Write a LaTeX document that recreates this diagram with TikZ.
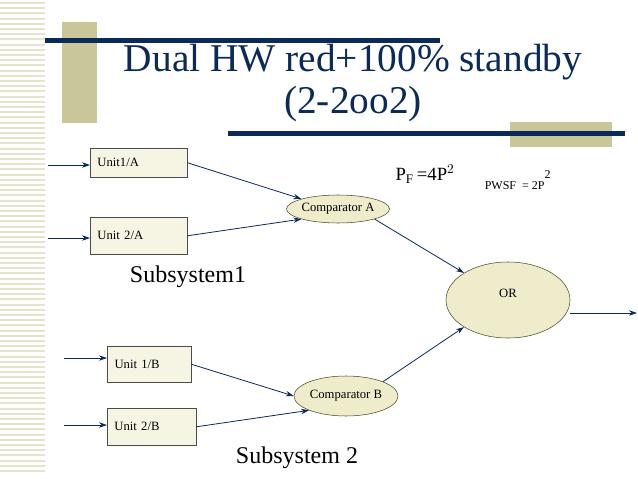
\documentclass[tikz,border=0pt]{standalone}
\usepackage{fontspec}
\setmainfont{Liberation Serif}
\usetikzlibrary{shapes.geometric,arrows.meta}
\definecolor{navy}{HTML}{0B2A5A}
\definecolor{khaki}{HTML}{C9C79A}
\definecolor{boxfill}{HTML}{F6F5E4}
\definecolor{ellfill}{HTML}{EEECCB}
\begin{document}
\begin{tikzpicture}[x=0.75pt,y=-0.75pt,
  unit/.style={draw=black!70,fill=boxfill,anchor=north west,inner sep=4pt,font=\fontsize{9.5}{10}\selectfont},
  ell/.style={ellipse,draw=black!60!olive,fill=ellfill,inner sep=0pt,font=\fontsize{9.5}{10}\selectfont},
  arr/.style={draw=navy,-{Stealth[length=6pt,width=4pt]},line width=0.6pt}]
\useasboundingbox (0,0) rectangle (638,478);
\fill[white] (0,0) rectangle (638,478);
\foreach \i in {0,...,90} \fill[khaki!50] (0,{2+\i*5.2}) rectangle (45,{4+\i*5.2});
\fill[khaki] (62,22) rectangle (97,123);
\fill[khaki] (510,122) rectangle (612,147);
\fill[navy] (45,38) rectangle (440,43);
\fill[navy] (228,131) rectangle (625,136);
\node[navy,font=\fontsize{29.5}{31}\selectfont,align=center] (title) at (353,83) {Dual HW red+100\% standby\\(2-2oo2)};
\node[unit,minimum width=72.75pt,minimum height=21.75pt,align=left,text width=62pt] (u1a) at (90,148) {Unit1/A\\[4pt]};
\node[unit,minimum width=72.75pt,minimum height=27.75pt,text width=62pt] (u2a) at (90,217) {Unit 2/A};
\node[unit,minimum width=63pt,minimum height=27pt,text width=52pt] (u1b) at (107,346) {Unit 1/B};
\node[unit,minimum width=66.75pt,minimum height=27.75pt,text width=56pt] (u2b) at (107,408) {Unit 2/B};
\node[ell,minimum width=72pt,minimum height=21pt] (ca) at (338,209) {Comparator A};
\node[ell,minimum width=78pt,minimum height=30pt] (cb) at (346,396) {Comparator B};
\node[ell,minimum width=93pt,minimum height=57pt] (or) at (508,300) {\raisebox{10pt}{OR}};
\coordinate (i1) at (48,165); \coordinate (i2) at (48,238);
\coordinate (i3) at (64,358); \coordinate (i4) at (64,425);
\coordinate (o0) at (570,313);
\coordinate (o) at (637,313);
\draw[arr] (i1) -- (i1-|u1a.west);
\draw[arr] (i2) -- (i2-|u2a.west);
\draw[arr] (i3) -- (i3-|u1b.west);
\draw[arr] (i4) -- (i4-|u2b.west);
\draw[arr] (u1a.east) -- (ca.north west);
\draw[arr] (u2a.east) -- (ca.south west);
\draw[arr] (u1b.east) -- (cb.west);
\draw[arr] (u2b.east) -- (cb.south west);
\draw[arr] (ca.south east) -- (or.north west);
\draw[arr] (cb.north east) -- (or.south west);
\draw[arr] (o0) -- (o);
\node[font=\fontsize{18}{20}\selectfont] (s1) at (188,277) {Subsystem1};
\node[font=\fontsize{18}{20}\selectfont] (s2) at (297,458) {Subsystem 2};
\node[font=\fontsize{14}{16}\selectfont] (pf) at (425,174) {P$_{\mathrm{F}}$\,=4P$^2$};
\node[font=\fontsize{9}{10}\selectfont] (pw) at (518,180) {PWSF\ \ = 2P$^{\raisebox{4pt}{2}}$};
\end{tikzpicture}
\end{document}
